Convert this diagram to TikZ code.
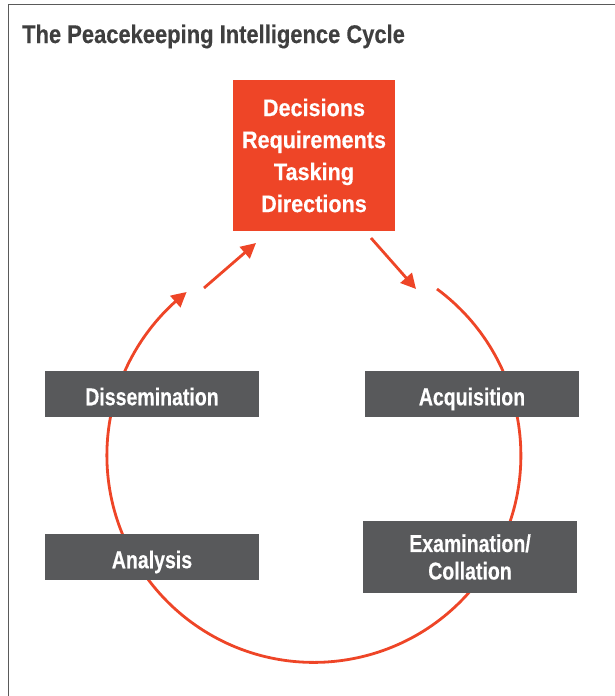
\documentclass[tikz,border=0pt]{standalone}
\usepackage{fontspec}
% condensed sans cuts for the labels
\newfontfamily\stagefont{Liberation Sans}[FakeStretch=0.80,FakeBold=0.4]
\newfontfamily\taskfont{Liberation Sans}[FakeStretch=0.90,FakeBold=0.4]
\newfontfamily\headfont{Liberation Sans}[FakeStretch=0.86,FakeBold=0.3]
\usetikzlibrary{arrows.meta,bending}
\definecolor{pkred}{HTML}{EE4527}
\definecolor{pkgray}{HTML}{58595B}
\definecolor{titlegray}{HTML}{3F3F3F}
\definecolor{framegray}{HTML}{5A5A5A}
\begin{document}
\begin{tikzpicture}[x=1pt,y=-1pt,
  stagebox/.style={fill=pkgray,text=white,minimum width=214pt,inner sep=0pt,
    font=\stagefont\bfseries\fontsize{24.4}{27.5}\selectfont,align=center},
  oneline/.style={minimum height=46pt,text height=22.5pt,text depth=0pt},
  flow/.style={draw=pkred,line width=2.8pt,-{Triangle[length=15pt,width=15pt,bend]}}]
  \useasboundingbox (0,0) rectangle (615,696);
  % outer frame (open to the right and bottom)
  \draw[framegray,line width=1.4pt] (8.5,696) -- (8.5,4.5) -- (615,4.5);
  % title
  \node[anchor=base west,text=titlegray,inner sep=0pt,
    font=\headfont\bfseries\fontsize{25.5}{28}\selectfont] (title) at (22,43)
    {The Peacekeeping Intelligence Cycle};
  % the cycle circle, open at the top
  \coordinate (arcstart) at (437,289);
  \draw[flow] (arcstart) arc[start angle=53.5,end angle=-232.1,radius=207pt];
  % central tasking box
  \node[fill=pkred,text=white,minimum width=162pt,minimum height=151pt,inner sep=0pt,
    font=\taskfont\bfseries\fontsize{24}{32}\selectfont,align=center] (decide) at (314,155.5)
    {Decisions\\Requirements\\Tasking\\Directions};
  % arrows into and out of the tasking box
  \coordinate (inA) at (204,288);
  \coordinate (inB) at (256,243);
  \coordinate (outA) at (371,238);
  \coordinate (outB) at (416,289);
  \draw[flow] (inA) -- (inB);
  \draw[flow] (outA) -- (outB);
  % stages of the cycle
  \node[stagebox,oneline] (dissem) at (152,394) {Dissemination};
  \node[stagebox,oneline] (acq) at (472,394) {Acquisition};
  \node[stagebox,oneline] (analysis) at (152,557) {Analysis};
  \node[stagebox,minimum height=72pt] (exam) at (470,557) {Examination/\\Collation};
\end{tikzpicture}
\end{document}
